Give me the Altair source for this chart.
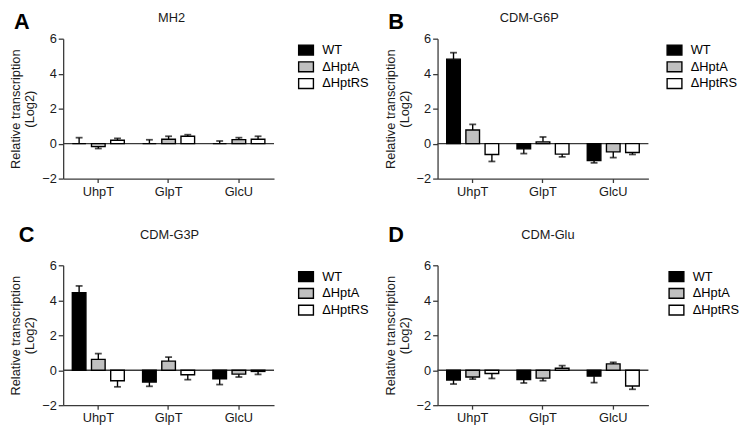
import altair as alt
import pandas as pd

genes = ["UhpT", "GlpT", "GlcU"]
strains = ["WT", "ΔHptA", "ΔHptRS"]
colors = ["#000000", "#c0c0c0", "#ffffff"]

# values listed gene-major: UhpT(WT, ΔHptA, ΔHptRS), GlpT(...), GlcU(...)
mh2_vals = [0.0, -0.17, 0.19, 0.0, 0.25, 0.42, 0.0, 0.23, 0.25]
mh2_errs = [0.34, 0.11, 0.11, 0.22, 0.17, 0.09, 0.15, 0.11, 0.17]

g6p_vals = [4.83, 0.78, -0.62, -0.30, 0.10, -0.60, -0.97, -0.47, -0.51]
g6p_errs = [0.37, 0.32, 0.40, 0.27, 0.28, 0.16, 0.13, 0.33, 0.11]

g3p_vals = [4.43, 0.62, -0.60, -0.67, 0.52, -0.26, -0.49, -0.22, -0.07]
g3p_errs = [0.39, 0.33, 0.35, 0.25, 0.23, 0.28, 0.33, 0.17, 0.17]

glu_vals = [-0.56, -0.39, -0.19, -0.53, -0.45, 0.11, -0.34, 0.36, -0.90]
glu_errs = [0.23, 0.12, 0.28, 0.20, 0.15, 0.15, 0.37, 0.09, 0.19]

FONT = "Arial, Liberation Sans, Helvetica, sans-serif"
W, H = 214, 142
AXC = "#3a3a3a"
SYMBOL = "M-1,-0.667H1V0.667H-1Z"


def panel(name, letter, vals, errs, legend_off, title_x, title_y, letter_x, letter_y):
    rows = []
    i = 0
    for g in genes:
        for s in strains:
            v = vals[i]
            e = errs[i]
            sign = 1 if v >= 0 else -1
            rows.append({"gene": g, "strain": s, "value": v, "end": v + sign * e})
            i += 1
    df = pd.DataFrame(rows)

    yscale = alt.Scale(domain=[-2, 6], nice=False, zero=False)
    yaxis = alt.Axis(values=[-2, 0, 2, 4, 6], title=["Relative transcription", "(Log2)"],
                     grid=False, tickSize=5, labelPadding=2, titlePadding=5,
                     titleLineHeight=14)
    X = alt.X("gene:N", sort=genes,
              scale=alt.Scale(paddingInner=0.26, paddingOuter=0.13),
              axis=alt.Axis(title=None, labelAngle=0, tickSize=4, labelPadding=3, grid=False))
    XO = alt.XOffset("strain:N", sort=strains,
                     scale=alt.Scale(paddingInner=0.29, paddingOuter=0))

    base = alt.Chart(df).encode(x=X, xOffset=XO)

    err = base.mark_rule(color="black", strokeWidth=1.4).encode(
        y=alt.Y("value:Q", scale=yscale, axis=yaxis), y2="end:Q")
    cap = base.mark_tick(color="black", thickness=1.8, size=7).encode(
        y=alt.Y("end:Q", scale=yscale, axis=yaxis))
    bars = base.mark_bar(stroke="black", strokeWidth=1.4).encode(
        y=alt.Y("value:Q", scale=yscale, axis=yaxis),
        fill=alt.Fill("strain:N", sort=strains,
                      scale=alt.Scale(domain=strains, range=colors),
                      legend=alt.Legend(title=None, orient="right", offset=legend_off, padding=3,
                                        symbolType=SYMBOL, symbolSize=225,
                                        symbolStrokeColor="black", symbolStrokeWidth=1.4,
                                        labelFontSize=13, labelFont=FONT, labelColor="black",
                                        labelOffset=8, rowPadding=0)))
    zero = alt.Chart(pd.DataFrame({"value": [0.0]})).mark_rule(
        color=AXC, strokeWidth=1.4).encode(y=alt.Y("value:Q", scale=yscale, axis=yaxis))

    ttl = alt.Chart(pd.DataFrame({"t": [name]})).mark_text(
        font=FONT, fontSize=13, color="#1a1a1a", align="center", baseline="middle"
    ).encode(text="t:N", x=alt.value(title_x), y=alt.value(title_y))
    let = alt.Chart(pd.DataFrame({"t": [letter]})).mark_text(
        font=FONT, fontSize=22, fontWeight="bold", color="black", align="left", baseline="top"
    ).encode(text="t:N", x=alt.value(letter_x), y=alt.value(letter_y))

    return alt.layer(zero, err, bars, cap, ttl, let).properties(width=W, height=H)


pA = panel("MH2", "A", mh2_vals, mh2_errs, 21, 110, -21, -50, -27)
pB = panel("CDM-G6P", "B", g6p_vals, g6p_errs, 15, 93, -21, -50, -27)
pC = panel("CDM-G3P", "C", g3p_vals, g3p_errs, 21, 108, -31, -45, -41)
pD = panel("CDM-Glu", "D", glu_vals, glu_errs, 17, 112, -31, -50, -41)

row1 = alt.hconcat(pA, pB, spacing=13).resolve_scale(fill="independent").resolve_legend(fill="independent")
row2 = alt.hconcat(pC, pD, spacing=13).resolve_scale(fill="independent").resolve_legend(fill="independent")

chart = alt.vconcat(row1, row2, spacing=26).resolve_scale(
    fill="independent").resolve_legend(fill="independent").properties(
    padding={"left": 2, "top": 0, "right": 0, "bottom": 0}
).configure_view(stroke=None).configure_axis(
    labelFont=FONT, titleFont=FONT, labelFontSize=13, titleFontSize=13,
    titleFontWeight="normal", labelColor="#1a1a1a", titleColor="#1a1a1a",
    domainColor=AXC, tickColor=AXC, domainWidth=1.3, tickWidth=1.3
)

chart.save("out.html", embed_options={"renderer": "svg", "actions": False})
